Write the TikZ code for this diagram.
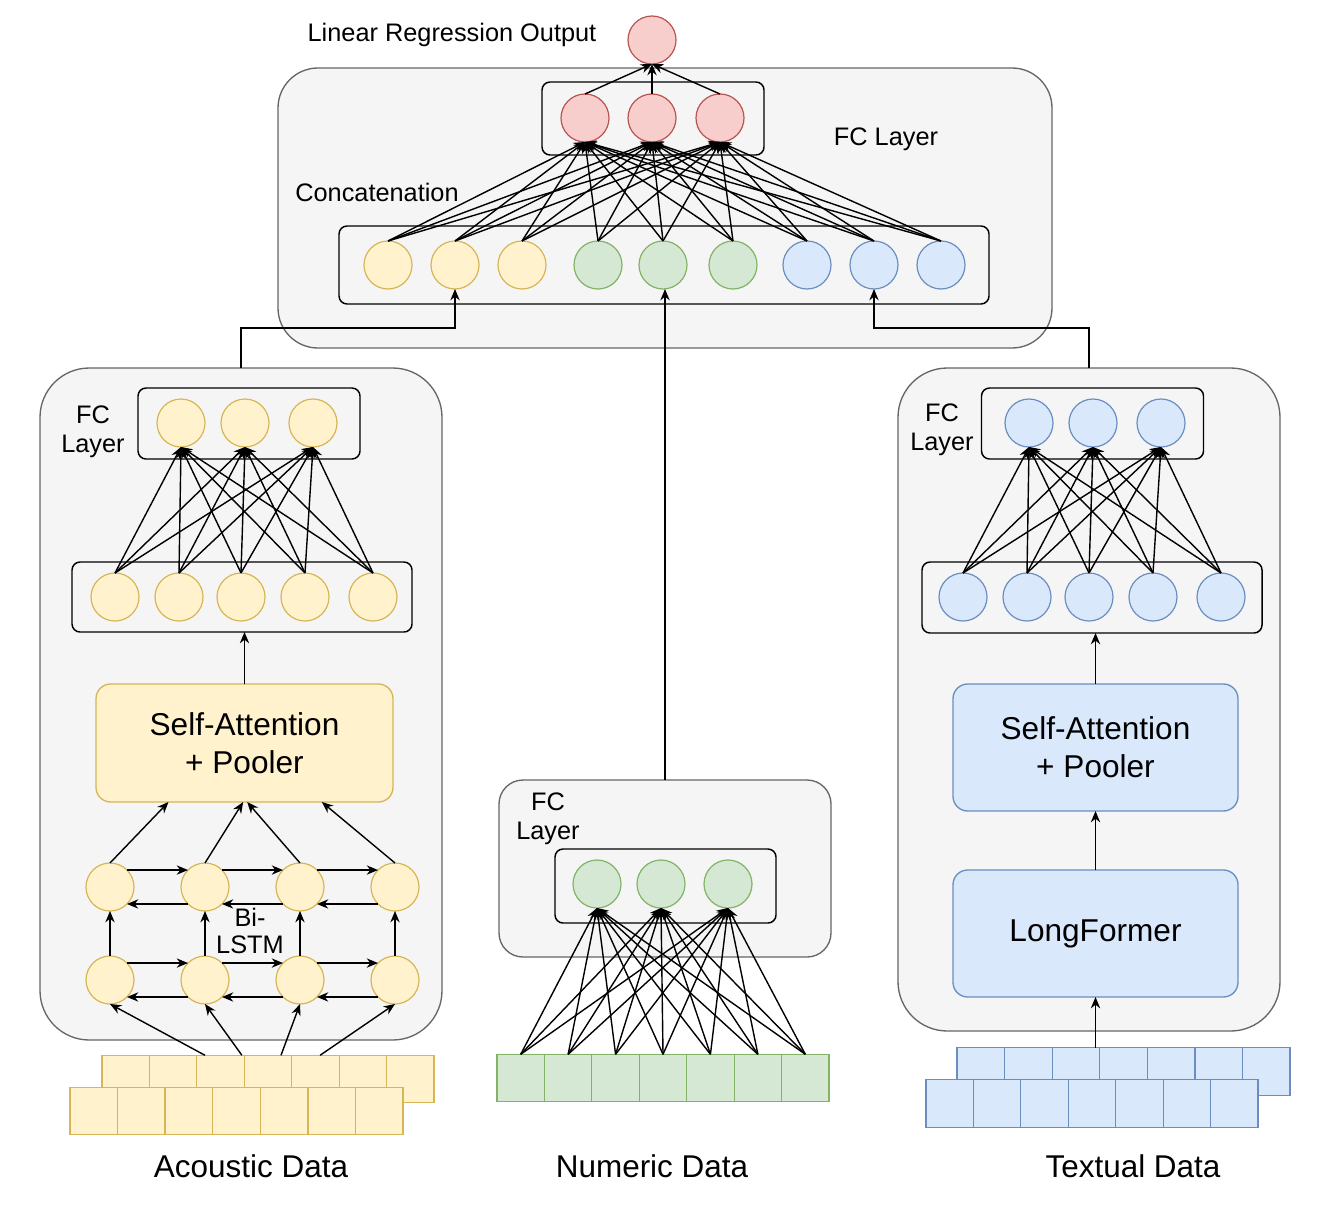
\documentclass[tikz,border=0pt]{standalone}
\usepackage{fontspec}
\setmainfont{Liberation Sans}
\usetikzlibrary{arrows.meta}

\definecolor{panelfill}{HTML}{F5F5F5}
\definecolor{panelline}{HTML}{666666}
\definecolor{ylwfill}{HTML}{FFF2CC}
\definecolor{ylwline}{HTML}{D6B656}
\definecolor{grnfill}{HTML}{D5E8D4}
\definecolor{grnline}{HTML}{82B366}
\definecolor{blufill}{HTML}{DAE8FC}
\definecolor{bluline}{HTML}{6C8EBF}
\definecolor{redfill}{HTML}{F8CECC}
\definecolor{redline}{HTML}{B85450}

\tikzset{
  dims/.style 2 args={minimum width=#1, minimum height=#2},
  panel/.style={draw=panelline, fill=panelfill, line width=1pt, inner sep=0pt, outer sep=0pt},
  layerbox/.style={draw=black, line width=1.1pt, rounded corners=6pt, inner sep=0pt, outer sep=0pt},
  block/.style={line width=1pt, rounded corners=11pt, inner sep=0pt, outer sep=0pt, align=center,
    font=\fontsize{23.7}{28.5}\selectfont},
  unit/.style={circle, minimum size=36pt, inner sep=0pt, outer sep=0pt, line width=0.9pt},
  ylwunit/.style={unit, fill=ylwfill, draw=ylwline},
  grnunit/.style={unit, fill=grnfill, draw=grnline},
  bluunit/.style={unit, fill=blufill, draw=bluline},
  redunit/.style={unit, fill=redfill, draw=redline},
  cell/.style={rectangle, minimum size=35.6pt, inner sep=0pt, outer sep=0pt, line width=0.9pt},
  ylwcell/.style={cell, fill=ylwfill, draw=ylwline},
  grncell/.style={cell, fill=grnfill, draw=grnline},
  blucell/.style={cell, fill=blufill, draw=bluline},
  arr/.style={-{Stealth[length=8.5pt,width=7pt]}, line width=1.05pt},
  lbl/.style={font=\fontsize{19}{21.5}\selectfont, align=center},
  ttl/.style={font=\fontsize{23.6}{27}\selectfont}
}

\begin{document}
\begin{tikzpicture}[x=0.75pt,y=0.75pt,yscale=-1,xscale=1]
\useasboundingbox (0,0) rectangle (1338,1213);

%Panels
\node[panel, rounded corners=30pt, dims={580.5pt}{210pt}] (fusion) at (665,208) {};
\node[panel, rounded corners=37pt, dims={301.5pt}{504pt}] (acou) at (241,704) {};
\node[panel, rounded corners=18pt, dims={249pt}{132.75pt}] (numb) at (665,868.5) {};
\node[panel, rounded corners=37pt, dims={286.5pt}{497.25pt}] (text) at (1089,699.5) {};

%Layer boxes
\node[layerbox, dims={166.5pt}{54.75pt}] (redbox) at (653,118.5) {};
\node[layerbox, dims={487.5pt}{58.5pt}] (catbox) at (664,265) {};
\node[layerbox, dims={166.5pt}{53.25pt}] (afc) at (249,423.5) {};
\node[layerbox, dims={255pt}{52.5pt}] (ahid) at (242,597) {};
\node[layerbox, dims={165.75pt}{55.5pt}] (nfc) at (665.5,886) {};
\node[layerbox, dims={166.5pt}{53.25pt}] (tfc) at (1092.5,423.5) {};
\node[layerbox, dims={255pt}{53.25pt}] (thid) at (1092,597.5) {};

%Blocks
\node[block, fill=ylwfill, draw=ylwline, dims={222.75pt}{88.5pt}] (asa) at (244.5,743) {Self-Attention\\+ Pooler};
\node[block, fill=blufill, draw=bluline, dims={213.75pt}{95.25pt}] (tsa) at (1095.5,747.5) {Self-Attention\\+ Pooler};
\node[block, fill=blufill, draw=bluline, dims={213.75pt}{95.25pt}] (tlf) at (1095.5,933.5) {LongFormer};

%Units
\node[redunit] (out) at (652,40) {};
\foreach \x [count=\i] in {585,652,720} \node[redunit] (r\i) at (\x,118) {};
\foreach \x [count=\i] in {388,455,522} \node[ylwunit] (c\i) at (\x,265) {};
\foreach \x [count=\i from 4] in {598,663,733} \node[grnunit] (c\i) at (\x,265) {};
\foreach \x [count=\i from 7] in {807,874,941} \node[bluunit] (c\i) at (\x,265) {};
\foreach \x [count=\i] in {181,245,313} \node[ylwunit] (au\i) at (\x,423) {};
\foreach \x [count=\i] in {115,179,241,305,373} \node[ylwunit] (al\i) at (\x,597) {};
\foreach \x [count=\i] in {1029,1093,1161} \node[bluunit] (tu\i) at (\x,423) {};
\foreach \x [count=\i] in {963,1027,1089,1153,1221} \node[bluunit] (tl\i) at (\x,597) {};
\foreach \x [count=\i] in {597,661,728} \node[grnunit] (nu\i) at (\x,884) {};
\foreach \x [count=\i] in {110,205,300,395} {
  \node[ylwunit] (lt\i) at (\x,887) {};
  \node[ylwunit] (lb\i) at (\x,980) {};
}

%Input cells
\foreach \i in {1,...,7} \node[ylwcell] (ab\i) at ({102+47.43*(\i-0.5)},1079) {};
\foreach \i in {1,...,7} \node[ylwcell] (af\i) at ({70+47.57*(\i-0.5)},1111) {};
\foreach \i in {1,...,7} \node[grncell] (nd\i) at ({497+47.43*(\i-0.5)},1078) {};
\foreach \i in {1,...,7} \node[blucell] (tb\i) at ({957+47.57*(\i-0.5)},1071.5) {};
\foreach \i in {1,...,7} \node[blucell] (tf\i) at ({926+47.43*(\i-0.5)},1103.5) {};

%Dense connections
\foreach \i in {1,...,9} \foreach \j in {1,2,3} \draw[arr] (c\i.north) -- (r\j.south);
\foreach \j in {1,2,3} \draw[arr] (r\j.north) -- (out.south);
\foreach \i in {1,...,5} \foreach \j in {1,2,3} {
  \draw[arr] (al\i.north) -- (au\j.south);
  \draw[arr] (tl\i.north) -- (tu\j.south);
}
\foreach \i in {1,...,7} \foreach \j in {1,2,3} \draw[arr] (nd\i.north) -- (nu\j.south);

%Bi-LSTM
\foreach \i/\n in {1/2,2/3,3/4} {
  \draw[arr] (lt\i.45) -- (lt\n.135);
  \draw[arr] (lt\n.-135) -- (lt\i.-45);
  \draw[arr] (lb\i.45) -- (lb\n.135);
  \draw[arr] (lb\n.-135) -- (lb\i.-45);
}
\foreach \i in {1,...,4} \draw[arr] (lb\i.north) -- (lt\i.south);
\draw[arr] (lt1.north) -- ([xshift=-57pt]asa.south);
\draw[arr] (lt2.north) -- ([xshift=-1pt]asa.south);
\draw[arr] (lt3.north) -- ([xshift=2pt]asa.south);
\draw[arr] (lt4.north) -- ([xshift=58pt]asa.south);
\draw[arr] ([xshift=-11.7pt]ab3.north) -- (lb1.south);
\draw[arr] ([xshift=16pt]ab3.north) -- (lb2.south);
\draw[arr] ([xshift=9.75pt]ab4.north) -- (lb3.south);
\draw[arr] ([xshift=3.5pt]ab5.north) -- (lb4.south);

%Block connections
\draw[arr] (asa.north) -- (asa.north |- ahid.south);
\draw[arr] (tsa.north) -- (tsa.north |- thid.south);
\draw[arr] (tlf.north) -- (tsa.south);
\draw[arr] (tlf.south |- tb3.north) -- (tlf.south);

%To concatenation
\draw[arr] (acou.north) -- ++(0,-40) -| (c2.south);
\draw[arr] (numb.north) -- (numb.north |- c5.south);
\draw[arr] (text.north) -- ++(0,-40) -| (c8.south);

%Labels
\node[lbl] (outlbl) at (452,35) {Linear Regression Output};
\node[lbl] (fclbl) at (886,139) {FC Layer};
\node[lbl] (catlbl) at (377,192) {Concatenation};
\node[lbl] (afclbl) at (93,432) {FC\\Layer};
\node[lbl] (tfclbl) at (942,430) {FC\\Layer};
\node[lbl] (nfclbl) at (548,819) {FC\\Layer};
\node[lbl, font=\fontsize{19}{20.5}\selectfont] (lstmlbl) at (250,931) {Bi-\\LSTM};
\node[ttl] (acoulbl) at (251,1166) {Acoustic Data};
\node[ttl] (numblbl) at (652,1166) {Numeric Data};
\node[ttl] (textlbl) at (1133,1166) {Textual Data};

\end{tikzpicture}
\end{document}
